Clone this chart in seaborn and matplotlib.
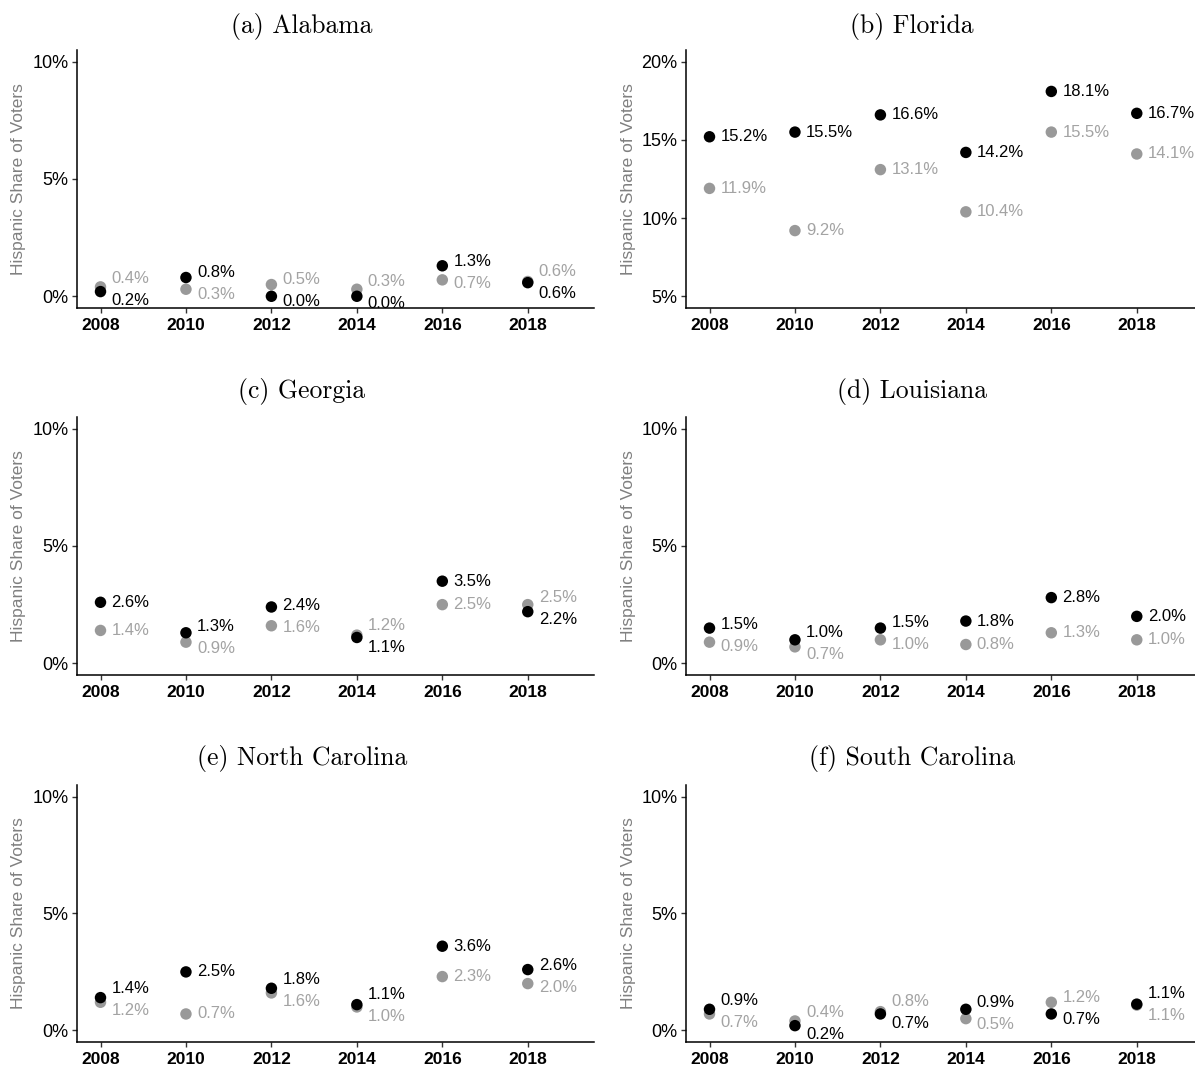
import numpy as np
import pandas as pd
import matplotlib
matplotlib.use("Agg")
import matplotlib.pyplot as plt
import seaborn as sns

# ---------------- data ----------------
years = [2008, 2010, 2012, 2014, 2016, 2018]
states = ["Alabama", "Florida", "Georgia", "Louisiana", "North Carolina", "South Carolina"]
letters = ["a", "b", "c", "d", "e", "f"]

black_alabama = [0.2, 0.8, 0.0, 0.0, 1.3, 0.58]
gray_alabama = [0.4, 0.3, 0.5, 0.3, 0.7, 0.63]

black_florida = [15.2, 15.5, 16.6, 14.2, 18.1, 16.7]
gray_florida = [11.9, 9.2, 13.1, 10.4, 15.5, 14.1]

black_georgia = [2.6, 1.3, 2.4, 1.1, 3.5, 2.2]
gray_georgia = [1.4, 0.9, 1.6, 1.2, 2.5, 2.5]

black_louisiana = [1.5, 1.0, 1.5, 1.8, 2.8, 2.0]
gray_louisiana = [0.9, 0.7, 1.0, 0.8, 1.3, 1.0]

black_nc = [1.4, 2.5, 1.8, 1.1, 3.6, 2.6]
gray_nc = [1.2, 0.7, 1.6, 1.0, 2.3, 2.0]

black_sc = [0.9, 0.2, 0.7, 0.9, 0.7, 1.12]
gray_sc = [0.7, 0.4, 0.8, 0.5, 1.2, 1.08]

black_series = [black_alabama, black_florida, black_georgia, black_louisiana, black_nc, black_sc]
gray_series = [gray_alabama, gray_florida, gray_georgia, gray_louisiana, gray_nc, gray_sc]

yticks_default = [0, 5, 10]
yticks_florida = [5, 10, 15, 20]
ylim_default = (0, 10)
ylim_florida = (5, 20)

# ---------------- style ----------------
sns.set_style("ticks")
plt.rcParams["font.family"] = ["Liberation Sans", "DejaVu Sans"]

W, H = 1195, 1066
fig = plt.figure(figsize=(W / 100, H / 100), dpi=100)

GRAY_PT = "#999999"
GRAY_TXT = "#a3a3a3"

left_px = [77, 686]
top_px = [50, 417, 785]
bottom_px = [308, 675, 1042]
ax_w_px = 517
title_x_px = [302, 912]
title_y_px = [26, 392, 759]

def expand(lo, hi, f=0.05):
    r = hi - lo
    return lo - f * r, hi + f * r

for i, state in enumerate(states):
    row, col = divmod(i, 2)
    x0 = left_px[col] / W
    y0 = 1 - bottom_px[row] / H
    h = (bottom_px[row] - top_px[row]) / H
    ax = fig.add_axes([x0, y0, ax_w_px / W, h])

    b = black_series[i]
    g = gray_series[i]
    df = pd.DataFrame({
        "year": years + years,
        "share": g + b,
        "series": ["gray"] * len(years) + ["black"] * len(years),
    })
    sns.scatterplot(data=df, x="year", y="share", hue="series",
                    palette={"gray": GRAY_PT, "black": "#000000"},
                    s=68, linewidth=0, edgecolor="none", legend=False, ax=ax,
                    zorder=3)

    if state == "Florida":
        lo, hi = ylim_florida
        ticks = yticks_florida
    else:
        lo, hi = ylim_default
        ticks = yticks_default
    ylo, yhi = expand(lo, hi)
    ax.set_ylim(ylo, yhi)
    xlo, xhi = expand(2008, 2019)
    ax.set_xlim(xlo, xhi)
    ax.set_yticks(ticks)
    ax.set_yticklabels([f"{t}%" for t in ticks])
    ax.set_xticks(years)
    ax.set_xticklabels([str(y) for y in years], fontweight="bold")
    ax.set_xlabel("")
    ax.set_ylabel("")
    sns.despine(ax=ax)
    for sp in ["left", "bottom"]:
        ax.spines[sp].set_linewidth(1.1)
        ax.spines[sp].set_color("#000000")
    ax.tick_params(axis="both", length=3.5, width=1.0, color="#333333",
                   labelcolor="#000000")
    ax.tick_params(axis="x", pad=3.5, labelsize=12.5)
    ax.tick_params(axis="y", pad=2.5, labelsize=13)

    # labels with simple vertical repel
    ax_h_px = bottom_px[row] - top_px[row]
    px_per = ax_h_px / (yhi - ylo)
    min_sep = 22.0
    for j, yr in enumerate(years):
        bv, gv = b[j], g[j]
        d = (bv - gv) * px_per
        off_b, off_g = 0.0, 0.0
        if abs(d) < min_sep:
            push = (min_sep - abs(d)) / 2
            sgn = 1 if bv >= gv else -1
            off_b = sgn * push
            off_g = -sgn * push
        for v, off, col_txt in [(gv, off_g, GRAY_TXT), (bv, off_b, "#000000")]:
            ax.annotate(f"{v:.1f}%", xy=(yr, v),
                        xytext=(11 * 0.72, off * 0.72), textcoords="offset points",
                        ha="left", va="center", fontsize=12, color=col_txt,
                        annotation_clip=False)

    # title
    fig.text(title_x_px[col] / W, 1 - title_y_px[row] / H,
             f"({letters[i]}) {state}", family="cmr10", fontsize=18.5,
             ha="center", va="center", color="#000000")
    # y label
    fig.text((left_px[col] - 58) / W, 1 - (top_px[row] + bottom_px[row]) / 2 / H,
             "Hispanic Share of Voters", rotation=90, ha="center", va="center",
             fontsize=12.5, color="#808080")

fig.savefig("out.png", dpi=100)
